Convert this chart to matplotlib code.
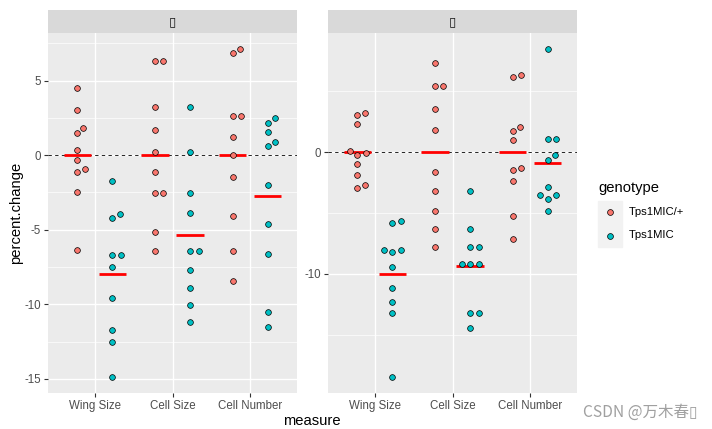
import numpy as np
import matplotlib.pyplot as plt
from matplotlib.lines import Line2D
from matplotlib.patches import Rectangle

plt.rcParams['font.family'] = ['Liberation Sans', 'DejaVu Sans']

measures = ['Wing Size', 'Cell Size', 'Cell Number']
genotypes = ['Tps1MIC/+', 'Tps1MIC']
geno_colors = ['#F8766D', '#00BFC4']
strip_labels = ['\u25af', '\u25af']

# panel 1 (left)
p1_het_wing = [4.5, 3.0, 1.85, 1.45, 0.35, -0.35, -0.95, -1.15, -2.45, -6.35]
p1_het_cell = [6.33, 6.33, 3.21, 1.71, 0.24, -1.16, -2.54, -2.54, -5.18, -6.45]
p1_het_num = [7.09, 6.82, 2.61, 2.61, 1.24, 0.02, -1.5, -4.08, -6.45, -8.43]
p1_mic_wing = [-1.72, -3.93, -4.21, -6.7, -6.7, -7.5, -9.6, -11.7, -12.5, -14.85]
p1_mic_cell = [3.21, 0.24, -2.54, -3.88, -6.45, -6.45, -7.67, -8.88, -10.06, -11.2]
p1_mic_num = [2.52, 2.18, 1.58, 0.89, 0.64, -2.0, -4.62, -6.6, -10.55, -11.55]

# panel 2 (right)
p2_het_wing = [3.2, 3.03, 2.32, 0.13, -0.11, -0.22, -1.01, -1.92, -2.7, -2.95]
p2_het_cell = [7.34, 5.43, 5.43, 3.57, 1.8, -1.61, -3.23, -4.81, -6.34, -7.79]
p2_het_num = [6.31, 6.15, 2.05, 1.72, 1.01, -1.31, -1.45, -2.35, -5.25, -7.16]
p2_mic_wing = [-5.69, -5.82, -8.03, -8.17, -8.03, -9.43, -11.18, -12.27, -13.2, -18.44]
p2_mic_cell = [-3.23, -6.34, -7.79, -7.79, -9.18, -9.18, -9.18, -13.23, -13.23, -14.48]
p2_mic_num = [8.44, 1.09, 1.09, -0.2, -0.63, -2.9, -3.5, -3.56, -3.85, -4.81]

panels = [
    [[p1_het_wing, p1_het_cell, p1_het_num], [p1_mic_wing, p1_mic_cell, p1_mic_num]],
    [[p2_het_wing, p2_het_cell, p2_het_num], [p2_mic_wing, p2_mic_cell, p2_mic_num]],
]
yticks = [[-15, -10, -5, 0, 5], [-10, 0]]

W, H = 712, 429
fig = plt.figure(figsize=(W / 100, H / 100), dpi=100)


def swarm(vals, ypx, xpx, d=8.5):
    # simple beeswarm: place points in y order, nearest free x offset
    vals = np.asarray(vals)
    offs = np.zeros(len(vals))
    placed = []
    for i in np.argsort(vals, kind='stable'):
        y = vals[i] * ypx
        cands = [0.0]
        for px, py in placed:
            dy = abs(py - y)
            if dy < d:
                dx = np.sqrt(d * d - dy * dy)
                cands += [px + dx, px - dx]
        cands.sort(key=lambda c: (round(abs(c), 6), -c))
        for c in cands:
            if all((c - px) ** 2 + (y - py) ** 2 >= d * d - 1e-6 for px, py in placed):
                break
        placed.append((c, y))
        offs[i] = c / xpx
    return offs


lefts = [48, 328]
pw, top, bot = 249, 33, 393
for k, data in enumerate(panels):
    ax = fig.add_axes([lefts[k] / W, 1 - bot / H, pw / W, (bot - top) / H])
    ax.set_facecolor('#EBEBEB')
    for s in ax.spines.values():
        s.set_visible(False)
    allv = np.concatenate([np.concatenate(g) for g in data])
    lo, hi = allv.min(), allv.max()
    pad = 0.05 * (hi - lo)
    ax.set_xlim(0.4, 3.6)
    ax.set_ylim(lo - pad, hi + pad)
    ax.set_xticks([1, 2, 3])
    ax.set_xticklabels(measures)
    yt = yticks[k]
    ax.set_yticks(yt)
    ax.set_yticklabels([str(t) for t in yt])
    step = yt[1] - yt[0]
    minors = np.arange(yt[0] - step / 2, hi + pad, step)
    ax.set_yticks([m for m in minors if lo - pad < m < hi + pad], minor=True)
    ax.tick_params(axis='both', which='major', colors='#333333', length=3, width=0.8,
                   labelsize=8.3, labelcolor='#4D4D4D', pad=2)
    ax.tick_params(axis='y', which='minor', length=0)
    ax.grid(True, which='major', color='white', lw=1.0)
    ax.grid(True, which='minor', axis='y', color='white', lw=0.5)
    ax.set_axisbelow(True)
    ax.axhline(0, color='black', lw=0.6, dashes=(4, 4), zorder=2)

    xpx = pw / 3.2
    ypx = (bot - top) / (2 * pad + hi - lo)
    for g, series in enumerate(data):
        for m, vals in enumerate(series):
            xc = m + 1 + (g - 0.5) * 0.45
            offs = swarm(vals, ypx, xpx)
            ax.hlines(np.mean(vals), xc - 0.175, xc + 0.175, color='#FF0000', lw=2.0, zorder=3)
            ax.scatter(xc + offs, vals, s=17, color=geno_colors[g], edgecolor='black',
                       linewidth=0.5, zorder=4)

    sax = fig.add_axes([lefts[k] / W, 1 - top / H, pw / W, 23 / H])
    sax.set_facecolor('#D9D9D9')
    sax.set_xticks([])
    sax.set_yticks([])
    for s in sax.spines.values():
        s.set_visible(False)
    sax.text(0.5, 0.5, strip_labels[k], ha='center', va='center', fontsize=9.5,
             color='#1A1A1A', family='DejaVu Sans')

fig.text(16 / W, 1 - 213 / H, 'percent.change', rotation=90, ha='center', va='center', fontsize=10.6)
fig.text(312 / W, 1 - 421 / H, 'measure', ha='center', va='center', fontsize=10.6)

# legend
fig.text(598 / W, 1 - 188 / H, 'genotype', ha='left', va='center', fontsize=10.6)
fig.patches.append(Rectangle((598 / W, 1 - 247 / H), 24 / W, 46 / H, color='#F2F2F2',
                             transform=fig.transFigure, zorder=0))
for g, lab in enumerate(genotypes):
    yy = 1 - (212.5 + 23 * g) / H
    fig.add_artist(Line2D([610 / W], [yy], marker='o', markersize=4.2, color=geno_colors[g],
                          markeredgecolor='black', markeredgewidth=0.5, linestyle='none'))
    fig.text(629 / W, yy, lab, ha='left', va='center', fontsize=8.1)

fig.text(583 / W, 1 - 412 / H, 'CSDN @万木春\u25af', ha='left', va='center', fontsize=11.2,
         color='#A0A0A0', family=['Noto Sans CJK SC', 'DejaVu Sans'])

fig.savefig('out.png', dpi=100)
